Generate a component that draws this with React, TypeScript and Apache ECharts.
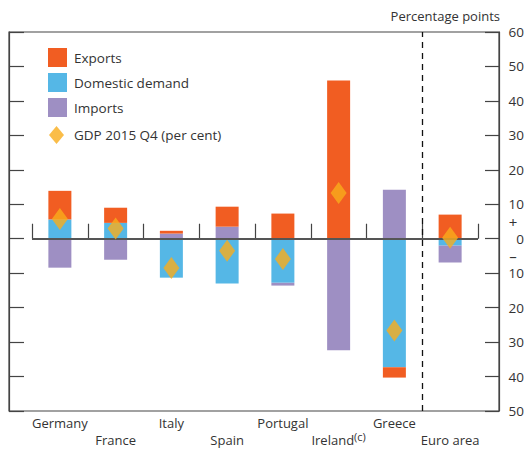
import React, { useEffect, useRef } from "react";
import * as echarts from "echarts";

const categories = ["Germany", "France", "Italy", "Spain", "Portugal", "Ireland", "Greece", "Euro area"];
const domesticDemand = [5.6, 4.6, -11.3, -13.0, -12.8, 0, -37.3, -2.0];
const imports = [-8.4, -6.1, 1.5, 3.5, -0.8, -32.4, 14.2, -4.9];
const exportsData = [8.3, 4.4, 0.8, 5.8, 7.3, 45.9, -3.0, 7.0];
const gdp = [5.7, 3.0, -8.5, -3.5, -5.9, 13.3, -26.6, 0.3];
const footnoted = ["Ireland"];

const FONT = "'Open Sans', 'Noto Sans', sans-serif";
const C_EXP = "#F15D22";
const C_DD = "#55B7E6";
const C_IMP = "#9E8FC3";
const C_GDP = "#F9AC1B";
const AXIS = "#444";

export default function App() {
  const ref = useRef<HTMLDivElement>(null);
  useEffect(() => {
    const chart = echarts.init(ref.current!, null, { renderer: "svg" });
    const yBase = { min: -50, max: 60, interval: 10 };
    chart.setOption({
      animation: false,
      textStyle: { fontFamily: FONT },
      title: {
        text: "Percentage points",
        right: 27,
        top: 9,
        padding: 0,
        textStyle: { fontFamily: FONT, fontSize: 13, fontWeight: "normal", color: "#333" },
      },
      legend: [
        {
          data: ["Exports", "Domestic demand", "Imports"],
          orient: "vertical",
          left: 48,
          top: 48,
          padding: 0,
          itemWidth: 19,
          itemHeight: 19,
          itemGap: 6,
          icon: "rect",
          selectedMode: false,
          textStyle: { fontFamily: FONT, fontSize: 13.5, color: "#333", padding: [0, 0, 0, 2] },
        },
        {
          data: ["GDP 2015 Q4 (per cent)"],
          orient: "vertical",
          left: 49,
          top: 126,
          padding: 0,
          itemWidth: 15,
          itemHeight: 18,
          icon: "diamond",
          selectedMode: false,
          textStyle: { fontFamily: FONT, fontSize: 13.5, color: "#333", padding: [0, 0, 0, 5] },
        },
      ],
      grid: [
        { left: 9, right: 27, top: 32, bottom: 40, show: true, borderColor: AXIS, borderWidth: 1.2, backgroundColor: "transparent" },
        { left: 32, right: 49, top: 32, bottom: 40 },
      ],
      xAxis: [
        { type: "value", gridIndex: 0, min: 0, max: 1, show: false },
        {
          type: "category",
          gridIndex: 1,
          data: categories,
          axisLine: { show: false },
          axisTick: { show: true, inside: true, length: 15, lineStyle: { color: AXIS, width: 1.2 } },
          axisLabel: {
            interval: 0,
            margin: 3,
            lineHeight: 17,
            fontSize: 13,
            color: "#333",
            fontFamily: FONT,
            formatter: (v: string, i: number) => {
              const t = footnoted.includes(v) ? `{n|${v}}{sup|(c)}` : `{n|${v}}`;
              return i % 2 === 1 ? `{n| }\n${t}` : t;
            },
            rich: {
              n: { fontSize: 13, color: "#333", fontFamily: FONT, lineHeight: 17 },
              sup: { fontSize: 11, color: "#333", fontFamily: FONT, verticalAlign: "top", lineHeight: 17, padding: [0, 0, 8, 0] },
            },
          },
        },
        { type: "value", gridIndex: 1, min: 0, max: 8, show: false },
      ],
      yAxis: [
        {
          type: "value",
          gridIndex: 0,
          position: "left",
          ...yBase,
          axisLine: { show: true, lineStyle: { color: AXIS, width: 1.2 } },
          axisTick: { show: true, inside: true, length: 15, lineStyle: { color: AXIS, width: 1.2 } },
          axisLabel: { show: false },
          splitLine: { show: false },
        },
        {
          type: "value",
          gridIndex: 0,
          position: "right",
          ...yBase,
          axisLine: { show: true, lineStyle: { color: AXIS, width: 1.2 } },
          axisTick: { show: true, inside: true, length: 14, lineStyle: { color: AXIS, width: 1.2 } },
          axisLabel: {
            show: true,
            align: "right",
            margin: 25,
            fontSize: 13.5,
            color: "#333",
            fontFamily: FONT,
            formatter: (v: number) => String(Math.abs(v)),
          },
          splitLine: { show: false },
        },
        {
          type: "value",
          gridIndex: 0,
          position: "right",
          min: -50,
          max: 60,
          interval: 5,
          axisLine: { show: false },
          axisTick: { show: false },
          splitLine: { show: false },
          axisLabel: {
            show: true,
            align: "center",
            margin: 14,
            fontSize: 15,
            color: "#333",
            fontFamily: FONT,
            formatter: (v: number) => (v === 5 ? "+" : v === -5 ? "–" : ""),
          },
        },
        { type: "value", gridIndex: 1, ...yBase, show: false, splitLine: { show: false } },
      ],
      series: [
        {
          name: "Domestic demand",
          type: "bar",
          xAxisIndex: 1,
          yAxisIndex: 3,
          stack: "total",
          barWidth: 23,
          itemStyle: { color: C_DD },
          data: domesticDemand,
          markLine: {
            silent: true,
            symbol: "none",
            label: { show: false },
            lineStyle: { color: "#555", width: 2, type: "solid" },
            data: [{ yAxis: 0 }],
          },
        },
        {
          name: "Imports",
          type: "bar",
          xAxisIndex: 1,
          yAxisIndex: 3,
          stack: "total",
          barWidth: 23,
          itemStyle: { color: C_IMP },
          data: imports,
        },
        {
          name: "Exports",
          type: "bar",
          xAxisIndex: 1,
          yAxisIndex: 3,
          stack: "total",
          barWidth: 23,
          itemStyle: { color: C_EXP },
          data: exportsData,
        },
        {
          name: "GDP 2015 Q4 (per cent)",
          type: "scatter",
          xAxisIndex: 1,
          yAxisIndex: 3,
          symbol: "diamond",
          symbolSize: [16, 22],
          itemStyle: { color: C_GDP },
          data: gdp,
          z: 5,
        },
        {
          name: "divider",
          type: "line",
          xAxisIndex: 2,
          yAxisIndex: 3,
          data: [[7, 0]],
          symbol: "none",
          lineStyle: { opacity: 0 },
          markLine: {
            silent: true,
            symbol: "none",
            label: { show: false },
            lineStyle: { color: "#111", width: 1.3, type: [6, 5] },
            data: [{ xAxis: 7 }],
          },
        },
      ],
    });
    return () => chart.dispose();
  }, []);
  return <div ref={ref} style={{ position: "absolute", left: 0, top: 0, width: 527, height: 451 }} />;
}
